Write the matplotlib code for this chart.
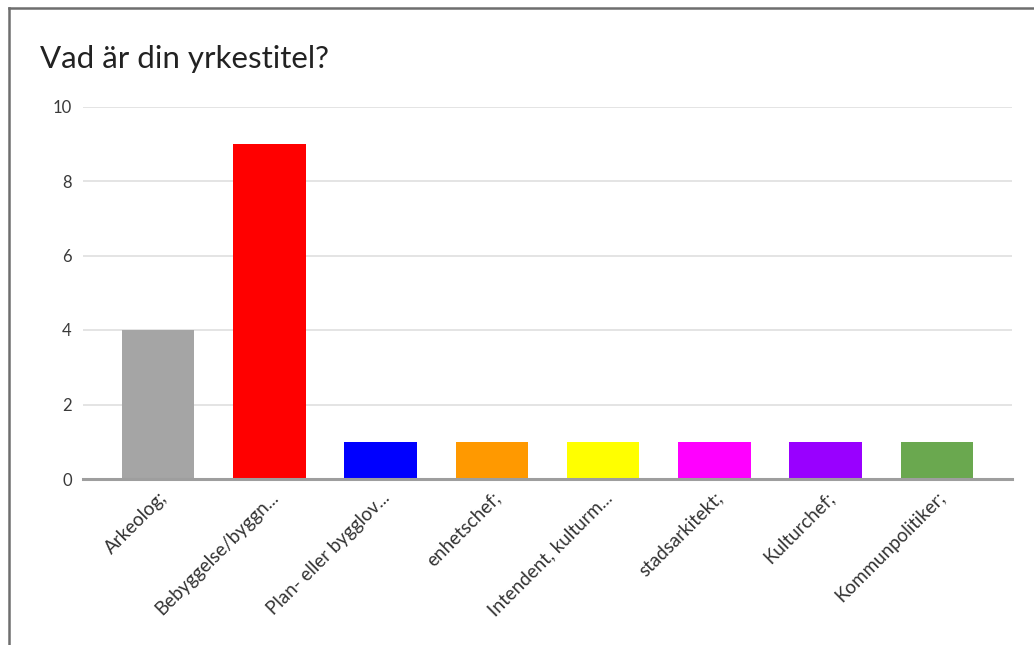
import matplotlib
matplotlib.use("Agg")
import matplotlib.pyplot as plt
from matplotlib.lines import Line2D

categories = ["Arkeolog;", "Bebyggelse/byggn...", "Plan- eller bygglov...", "enhetschef;",
              "Intendent, kulturm...", "stadsarkitekt;", "Kulturchef;", "Kommunpolitiker;"]
values = [4, 9, 1, 1, 1, 1, 1, 1]
colors = ["#a5a5a5", "#ff0000", "#0000ff", "#ff9900", "#ffff00", "#ff00ff", "#9900ff", "#6aa84f"]
yticks = [0, 2, 4, 6, 8, 10]
title = "Vad är din yrkestitel?"

plt.rcParams['font.family'] = ['Lato', 'DejaVu Sans']

W, H = 1034, 645
fig = plt.figure(figsize=(W / 100, H / 100), dpi=100)
ax = fig.add_axes([83 / W, 1 - 479 / H, (1012 - 83) / W, (479 - 106.5) / H])

x = list(range(len(categories)))
ax.bar(x, values, width=0.65, color=colors, zorder=3)
ax.set_xlim(-0.675, len(categories) - 1 + 0.675)
ax.set_ylim(0, 10)
ax.set_yticks(yticks)
ax.set_yticklabels([str(t) for t in yticks], fontsize=12, color="#3a3a3a")
ax.yaxis.grid(True, color="#dcdcdc", linewidth=1.1, zorder=0)
ax.tick_params(axis='y', length=0, pad=8)
ax.tick_params(axis='x', length=0, pad=7)
ax.set_xticks(x)
ax.set_xticklabels(categories, rotation=45, ha='right', rotation_mode='anchor',
                   fontsize=13.5, color="#333333")
for s in ['top', 'right', 'left']:
    ax.spines[s].set_visible(False)
ax.spines['bottom'].set_color("#9e9e9e")
ax.spines['bottom'].set_linewidth(2.2)
ax.spines['bottom'].set_zorder(4)

fig.text(40 / W, 1 - 68 / H, title, fontsize=22.5, color="#222222", ha='left', va='baseline')

# frame lines (screenshot border)
fig.add_artist(Line2D([9 / W, 9 / W], [0, 1 - 8 / H], transform=fig.transFigure,
                      color="#6e6e6e", linewidth=1.8))
fig.add_artist(Line2D([9 / W, 1], [1 - 8 / H, 1 - 8 / H], transform=fig.transFigure,
                      color="#6e6e6e", linewidth=1.8))

fig.savefig("out.png", dpi=100)
